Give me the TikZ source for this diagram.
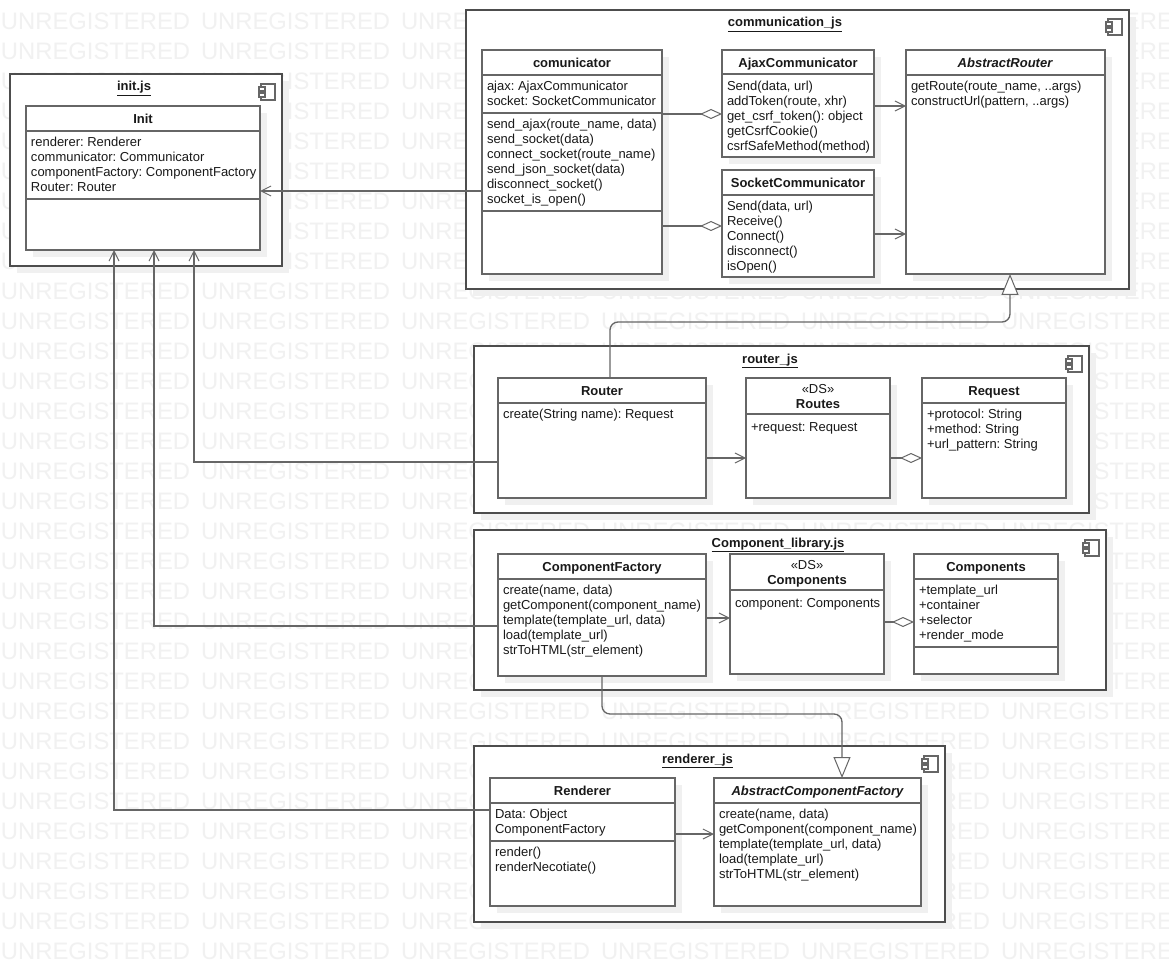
\documentclass[tikz,border=0pt]{standalone}
\usepackage{fontspec}
\setmainfont{Liberation Sans}
\frenchspacing
\usetikzlibrary{arrows.meta}
\definecolor{wm}{HTML}{F1F1F1}
\definecolor{sh}{HTML}{F0F0F0}
\definecolor{ln}{HTML}{666666}
\definecolor{ol}{HTML}{4D4D4D}
\def\u{0.75pt}
\tikzset{
  outerbox/.style={draw=ol,line width=1.25pt,fill=white,inner sep=0pt,outer sep=0pt},
  clsbox/.style={draw=ln,line width=1.3pt,fill=white,inner sep=0pt,outer sep=0pt},
  sepline/.style={draw=ln,line width=1.3pt},
  txt/.style={inner sep=0pt,outer sep=0pt,font=\fontsize{9.75}{11.25}\selectfont\frenchspacing,align=left,anchor=north west,text=black!90},
  hdr/.style={inner sep=0pt,outer sep=0pt,font=\fontsize{9.75}{11.25}\selectfont\bfseries,align=center,text=black!90,yshift=-0.8pt},
  ttl/.style={inner sep=0pt,outer sep=0pt,font=\fontsize{9.75}{11.25}\selectfont\bfseries,align=center,text=black!90,anchor=base},
  water/.style={inner sep=0pt,outer sep=0pt,anchor=west,text=wm,font=\fontsize{17.85}{20}\selectfont},
  conn/.style={draw=ln,line width=1pt},
  opena/.style={conn,-{Straight Barb[length=7.5pt,width=7.5pt,line width=0.75pt]}},
  aggr/.style={conn,-{Diamond[length=16.5pt,width=7.5pt,fill=white,line width=0.75pt]}},
  inh/.style={conn,-{Triangle[length=15.75pt,width=12.75pt,fill=white,line width=0.75pt]},rounded corners=6pt},
  iconb/.style={draw=ln,line width=1.1pt,fill=white}
}
\newcommand{\outerb}[5]{%
  \fill[sh] ({#2+7},{#3+7}) rectangle ({#4+7},{#5+7});
  \node[outerbox,minimum width={(#4-#2)*\u},minimum height={(#5-#3)*\u}] (#1) at ({(#2+#4)/2},{(#3+#5)/2}) {};}
\newcommand{\clsb}[5]{%
  \fill[sh] ({#2+7},{#3+7}) rectangle ({#4+7},{#5+7});
  \node[clsbox,minimum width={(#4-#2)*\u},minimum height={(#5-#3)*\u}] (#1) at ({(#2+#4)/2},{(#3+#5)/2}) {};}
\newcommand{\sepl}[2]{\draw[sepline] (#1.west |- 0,#2) -- (#1.east |- 0,#2);}
\newcommand{\icon}[3]{%
  \path[iconb] ({#2+2},#3) rectangle ({#2+16},{#3+16});
  \path[iconb] (#2,{#3+3}) rectangle ({#2+6},{#3+7});
  \path[iconb] (#2,{#3+9}) rectangle ({#2+6},{#3+13});
  \coordinate (#1) at (#2,#3);}
\newcommand{\lines}[4]{\node[txt] (#1) at (#2,{#3-6}) {#4};}
\begin{document}
\begin{tikzpicture}[x=0.75pt,y=-0.75pt]
\useasboundingbox (0,0) rectangle (1169,962);
\clip (0,0) rectangle (1169,962);
\fill[white] (0,0) rectangle (1169,962);
% watermark
\foreach \r in {0,...,31}{
  \foreach \c in {0,...,5}{
    \node[water] (w\r x\c) at ({1+\c*200},{21.5+30*\r}) {UNREGISTERED};
  }
}
% init.js
\outerb{pkinit}{10}{74}{282}{266}
\node[ttl] (tinit) at (134,91) {\underline{init.js}};
\icon{iinit}{259}{84}
\clsb{Init}{26}{106}{260}{250}
\sepl{Init}{131}\sepl{Init}{199}
\node[hdr] (hInit) at (143,119) {Init\strut};
\lines{mInit}{31}{142}{renderer: Renderer\strut\\communicator: Communicator\strut\\componentFactory: ComponentFactory\strut\\Router: Router\strut}
% communication_js
\outerb{pkcomm}{466}{10}{1129}{289}
\node[ttl] (tcomm) at (785,27) {\underline{communication\_js}};
\icon{icomm}{1106}{19}
\clsb{comu}{482}{50}{662}{274}
\sepl{comu}{75}\sepl{comu}{113}\sepl{comu}{211}
\node[hdr] (hcomu) at (572,63) {comunicator\strut};
\lines{acomu}{487}{86}{ajax: AjaxCommunicator\strut\\socket: SocketCommunicator\strut}
\lines{mcomu}{487}{124}{send\_ajax(route\_name, data)\strut\\send\_socket(data)\strut\\connect\_socket(route\_name)\strut\\send\_json\_socket(data)\strut\\disconnect\_socket()\strut\\socket\_is\_open()\strut}
\clsb{ajax}{722}{50}{874}{157}
\sepl{ajax}{74}
\node[hdr] (hajax) at (798,63) {AjaxCommunicator\strut};
\lines{majax}{727}{86}{Send(data, url)\strut\\addToken(route, xhr)\strut\\get\_csrf\_token(): object\strut\\getCsrfCookie()\strut\\csrfSafeMethod(method)\strut}
\clsb{sock}{722}{170}{874}{277}
\sepl{sock}{195}
\node[hdr] (hsock) at (798,183) {SocketCommunicator\strut};
\lines{msock}{727}{206}{Send(data, url)\strut\\Receive()\strut\\Connect()\strut\\disconnect()\strut\\isOpen()\strut}
\clsb{arouter}{906}{50}{1105}{274}
\sepl{arouter}{75}
\node[hdr] (harouter) at (1005,63) {\itshape AbstractRouter\strut};
\lines{marouter}{911}{86}{getRoute(route\_name, ..args)\strut\\constructUrl(pattern, ..args)\strut}
% router_js
\outerb{pkrouter}{474}{346}{1089}{513}
\node[ttl] (trouter) at (770,363) {\underline{router\_js}};
\icon{irouter}{1066}{356}
\clsb{router}{498}{378}{706}{498}
\sepl{router}{403}
\node[hdr] (hrouter) at (602,391) {Router\strut};
\lines{mrouter}{503}{414}{create(String name): Request\strut}
\clsb{routes}{746}{378}{890}{498}
\sepl{routes}{414}
\node[hdr] (hroutes) at (818,396.5) {\mdseries«DS»\strut\\Routes\strut};
\lines{mroutes}{751}{427}{+request: Request\strut}
\clsb{request}{922}{378}{1066}{498}
\sepl{request}{403}
\node[hdr] (hrequest) at (994,391) {Request\strut};
\lines{mrequest}{927}{414}{+protocol: String\strut\\+method: String\strut\\+url\_pattern: String\strut}
% Component_library.js
\outerb{pklib}{474}{530}{1106}{690}
\node[ttl] (tlib) at (778,547) {\underline{Component\_library.js}};
\icon{ilib}{1083}{540}
\clsb{cfact}{498}{554}{706}{676}
\sepl{cfact}{579}
\node[hdr] (hcfact) at (602,567) {ComponentFactory\strut};
\lines{mcfact}{503}{590}{create(name, data)\strut\\getComponent(component\_name)\strut\\template(template\_url, data)\strut\\load(template\_url)\strut\\strToHTML(str\_element)\strut}
\clsb{compds}{730}{554}{884}{674}
\sepl{compds}{590}
\node[hdr] (hcompds) at (807,572.5) {\mdseries«DS»\strut\\Components\strut};
\lines{mcompds}{735}{603}{component: Components\strut}
\clsb{comps}{914}{554}{1058}{674}
\sepl{comps}{579}\sepl{comps}{647}
\node[hdr] (hcomps) at (986,567) {Components\strut};
\lines{mcomps}{919}{590}{+template\_url\strut\\+container\strut\\+selector\strut\\+render\_mode\strut}
% renderer_js
\outerb{pkrend}{474}{746}{945}{922}
\node[ttl] (trend) at (697.5,763) {\underline{renderer\_js}};
\icon{irend}{922}{756}
\clsb{rend}{490}{778}{675}{906}
\sepl{rend}{803}\sepl{rend}{841}
\node[hdr] (hrend) at (582.5,791) {Renderer\strut};
\lines{arend}{495}{814}{Data: Object\strut\\ComponentFactory\strut}
\lines{mrend}{495}{852}{render()\strut\\renderNecotiate()\strut}
\clsb{acf}{714}{778}{921}{906}
\sepl{acf}{803}
\node[hdr] (hacf) at (817.5,791) {\itshape AbstractComponentFactory\strut};
\lines{macf}{719}{814}{create(name, data)\strut\\getComponent(component\_name)\strut\\template(template\_url, data)\strut\\load(template\_url)\strut\\strToHTML(str\_element)\strut}
% connectors
\draw[opena] (comu.west |- 0,191) -- (Init.east |- 0,191);
\draw[aggr] (comu.east |- 0,114) -- (ajax.west |- 0,114);
\draw[aggr] (comu.east |- 0,226) -- (sock.west |- 0,226);
\draw[opena] (ajax.east |- 0,106) -- (arouter.west |- 0,106);
\draw[opena] (sock.east |- 0,234) -- (arouter.west |- 0,234);
\draw[inh] (610,0 |- router.north) -- (610,322) -- (1010,322) -- (1010,0 |- arouter.south);
\draw[opena] (router.east |- 0,458) -- (routes.west |- 0,458);
\draw[aggr] (routes.east |- 0,458) -- (request.west |- 0,458);
\draw[opena] (router.west |- 0,462) -- (194,462) -- (194,0 |- Init.south);
\draw[opena] (cfact.east |- 0,618) -- (compds.west |- 0,618);
\draw[aggr] (compds.east |- 0,622) -- (comps.west |- 0,622);
\draw[opena] (cfact.west |- 0,626) -- (154,626) -- (154,0 |- Init.south);
\draw[inh] (602,0 |- cfact.south) -- (602,714) -- (842,714) -- (842,0 |- acf.north);
\draw[opena] (rend.east |- 0,834) -- (acf.west |- 0,834);
\draw[opena] (rend.west |- 0,810) -- (114,810) -- (114,0 |- Init.south);
\end{tikzpicture}
\end{document}
